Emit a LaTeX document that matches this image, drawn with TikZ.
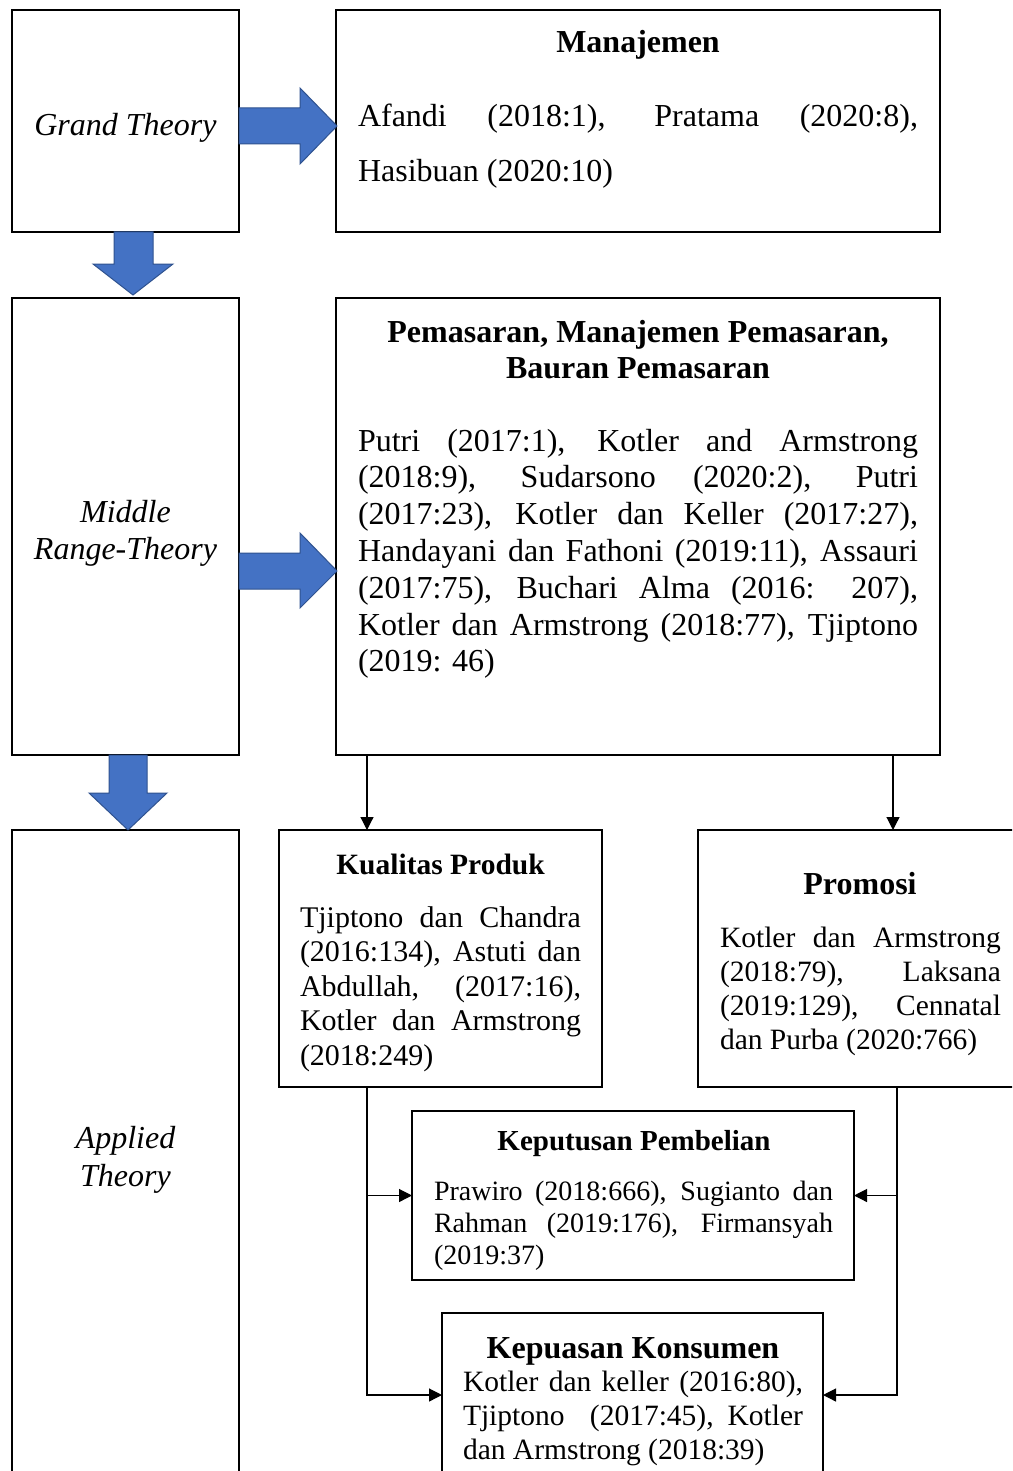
\documentclass[tikz,border=0pt]{standalone}
\usepackage{fontspec}
\setmainfont{Liberation Serif}
\usetikzlibrary{arrows.meta}
\definecolor{arrblue}{HTML}{4472C4}
\definecolor{arredge}{HTML}{2F528F}
\hyphenpenalty=10000
\exhyphenpenalty=10000
\begin{document}
\begin{tikzpicture}[x=1pt,y=-1pt,
  box/.style={draw, line width=2pt, anchor=north west, inner sep=0pt, outer sep=0pt},
  fatarrow/.style={fill=arrblue, draw=arredge, line width=1pt, line join=miter},
  conn/.style={line width=1.2pt, -{Triangle[length=13pt,width=13pt]}},
  ttl/.style={inner sep=0pt, outer sep=0pt, anchor=base, align=center},
  body/.style={inner sep=0pt, outer sep=0pt, anchor=base west, align=justify},
  side/.style={inner sep=0pt, outer sep=0pt, anchor=base, align=center}
]
\useasboundingbox (0,0) rectangle (1012,1471);
\clip (0,0) rectangle (1012,1471);
\fill[white] (0,0) rectangle (1012,1471);

% boxes
\node[box, minimum width=227pt, minimum height=222pt] (gt) at (12,10) {};
\node[box, minimum width=604pt, minimum height=222pt] (man) at (336,10) {};
\node[box, minimum width=227pt, minimum height=457pt] (mid) at (12,298) {};
\node[box, minimum width=604pt, minimum height=457pt] (pem) at (336,298) {};
\node[box, minimum width=227pt, minimum height=700pt] (app) at (12,830) {};
\node[box, minimum width=323pt, minimum height=257pt] (kual) at (279,830) {};
\node[box, minimum width=320pt, minimum height=257pt] (prom) at (698,830) {};
\node[box, minimum width=442pt, minimum height=169pt] (keput) at (412,1111) {};
\node[box, minimum width=381pt, minimum height=164pt] (kepuas) at (442,1313) {};

% blue block arrows
\draw[fatarrow] (239,108) -- (300,108) -- (300,88) -- (337,126) -- (300,164) -- (300,144) -- (239,144) -- cycle;
\draw[fatarrow] (114,232) -- (153,232) -- (153,264) -- (173,264) -- (133,295) -- (93,264) -- (114,264) -- cycle;
\draw[fatarrow] (239,553) -- (300,553) -- (300,533) -- (337,571) -- (300,608) -- (300,589) -- (239,589) -- cycle;
\draw[fatarrow] (109,755) -- (147,755) -- (147,793) -- (167,793) -- (128,830) -- (89,793) -- (109,793) -- cycle;

% connectors
\draw[conn] ([xshift=31pt]pem.south west) -- ([xshift=31pt]pem.south west |- kual.north);
\draw[conn] ([xshift=557pt]pem.south west) -- ([xshift=557pt]pem.south west |- prom.north);
\draw[conn] ([xshift=88pt]kual.south west) |- (kepuas.west);
\draw[conn] ([xshift=88pt]kual.south west |- keput.west) -- (keput.west);
\draw[conn] ([xshift=199pt]prom.south west) |- (kepuas.east);
\draw[conn] ([xshift=199pt]prom.south west |- keput.east) -- (keput.east);

% left column labels (multi-line: anchor at last baseline)
\node[side, font={\fontsize{32}{37}\selectfont\itshape}] (gtT) at (125.5,136) {Grand Theory};
\node[side, font={\fontsize{32}{37}\selectfont\itshape}] (midT) at (125.5,559) {Middle\\Range-Theory};
\node[side, font={\fontsize{32}{38}\selectfont\itshape}] (appT) at (125.5,1186) {Applied\\Theory};

% Manajemen
\node[ttl, font={\fontsize{32}{37}\selectfont\bfseries}] (manT) at (638,53) {Manajemen};
\node[body, text width=560pt, font={\fontsize{32}{55}\selectfont}] (manB) at (358,127)
  {Afandi (2018:1), Pratama (2020:8),\linebreak Hasibuan (2020:10)};

% Pemasaran
\node[ttl, font={\fontsize{32}{36}\selectfont\bfseries}] (pemT) at (638,378)
  {Pemasaran, Manajemen Pemasaran,\\Bauran Pemasaran};
\node[body, text width=560pt, font={\fontsize{32}{36.8}\selectfont}] (pemB) at (358,451)
  {Putri (2017:1), Kotler and Armstrong\linebreak
   (2018:9), Sudarsono (2020:2), Putri\linebreak
   (2017:23), Kotler dan Keller (2017:27),\linebreak
   Handayani dan Fathoni (2019:11), Assauri\linebreak
   (2017:75), Buchari Alma (2016: 207),\linebreak
   Kotler dan Armstrong (2018:77), Tjiptono\linebreak
   (2019: 46)};

% Kualitas Produk
\node[ttl, font={\fontsize{29.5}{34}\selectfont\bfseries}] (kualT) at (440.5,874) {Kualitas Produk};
\node[body, text width=281pt, font={\fontsize{30}{34.6}\selectfont}] (kualB) at (300,927)
  {Tjiptono dan Chandra\linebreak
   (2016:134), Astuti dan\linebreak
   Abdullah, (2017:16),\linebreak
   Kotler dan Armstrong\linebreak
   (2018:249)};

% Promosi
\node[ttl, font={\fontsize{32}{37}\selectfont\bfseries}] (promT) at (860,894) {Promosi};
\node[body, text width=281pt, font={\fontsize{29.5}{34}\selectfont}] (promB) at (720,947)
  {Kotler dan Armstrong\linebreak
   (2018:79), Laksana\linebreak
   (2019:129), Cennatal\linebreak
   dan Purba (2020:766)};

% Keputusan Pembelian
\node[ttl, font={\fontsize{29}{34}\selectfont\bfseries}] (keputT) at (634,1150) {Keputusan Pembelian};
\node[body, text width=399pt, font={\fontsize{28}{32}\selectfont}] (keputB) at (434,1200)
  {Prawiro (2018:666), Sugianto dan\linebreak
   Rahman (2019:176), Firmansyah\linebreak
   (2019:37)};

% Kepuasan Konsumen
\node[ttl, font={\fontsize{32}{37}\selectfont\bfseries}] (kepuasT) at (633,1358) {Kepuasan Konsumen};
\node[body, text width=340pt, font={\fontsize{29.5}{34}\selectfont}] (kepuasB) at (463,1391)
  {Kotler dan keller (2016:80),\linebreak
   Tjiptono\ \ (2017:45), Kotler\linebreak
   dan Armstrong (2018:39)};
\end{tikzpicture}
\end{document}
